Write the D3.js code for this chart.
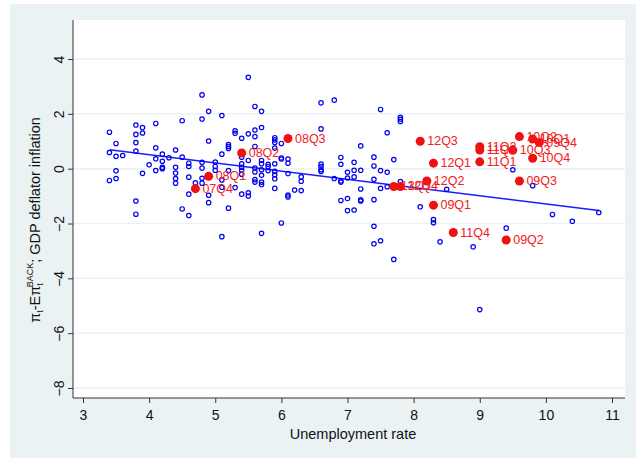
<!DOCTYPE html>
<html><head><meta charset="utf-8">
<script src="https://cdn.jsdelivr.net/npm/d3@7"></script>
<style>body{margin:0;background:#fff}text{font-family:"Liberation Sans",Arial,sans-serif}</style>
</head><body><svg id="c" width="641" height="461"></svg>
<script>
// blue points: [unemployment, inflation surprise]
var bluePts = [
[3.4,1.33],[3.4,0.59],[3.4,-0.43],[3.5,0.92],[3.5,0.45],[3.5,-0.08],[3.5,-0.36],[3.6,0.48],
[3.8,1.59],[3.8,1.25],[3.8,0.95],[3.8,0.64],[3.8,-1.18],[3.8,-1.66],[3.9,1.5],[3.9,1.3],[3.9,-0.17],
[4.0,0.14],[4.1,1.65],[4.1,0.76],[4.1,0.36],[4.1,-0.07],[4.2,0.53],[4.2,0.27],[4.2,0.05],[4.2,0],
[4.3,0.4],[4.4,0.68],[4.4,0.05],[4.4,-0.16],[4.4,-0.36],[4.4,-0.53],[4.5,1.75],[4.5,0.42],[4.5,-1.47],
[4.6,0.2],[4.6,0.08],[4.6,-0.31],[4.6,-0.93],[4.6,-1.71],[4.7,-0.52],
[4.8,2.69],[4.8,1.81],[4.8,0.23],[4.8,0.02],[4.8,-0.35],[4.8,-0.53],[4.9,2.09],[4.9,1.01],[4.9,-0.97],[4.9,-1.24],
[5.0,0.24],[5.0,0.08],[5.0,-0.06],[5.1,1.94],[5.1,0.53],[5.1,-0.41],[5.1,-0.68],[5.1,-2.48],
[5.2,0.88],[5.2,0.81],[5.2,0.74],[5.2,-0.07],[5.2,-1.44],[5.3,1.38],[5.3,1.29],[5.3,-0.69],
[5.4,1.11],[5.4,0.42],[5.4,0.18],[5.4,0.05],[5.4,-0.06],[5.4,-0.2],[5.4,-0.93],
[5.5,3.33],[5.5,1.27],[5.5,0.3],[5.5,-0.88],[5.5,-1.0],
[5.6,2.27],[5.6,1.41],[5.6,1.17],[5.6,0.81],[5.6,0.02],[5.6,-0.12],[5.6,-0.4],[5.6,-0.49],
[5.7,2.09],[5.7,1.5],[5.7,0.3],[5.7,0.18],[5.7,-0.04],[5.7,-0.24],[5.7,-0.49],[5.7,-0.58],[5.7,-2.36],
[5.8,0.16],[5.8,0.08],[5.8,-0.07],
[5.9,1.13],[5.9,1.05],[5.9,0.95],[5.9,0.75],[5.9,0.18],[5.9,-0.1],[5.9,-0.22],[5.9,-0.37],[5.9,-0.72],
[6.0,0.92],[6.0,0.39],[6.0,0.35],[6.0,-1.98],[6.1,0.35],[6.1,0.2],[6.1,-0.18],[6.1,-0.96],[6.1,-1.03],
[6.2,-0.78],[6.3,-0.3],[6.3,-0.46],[6.3,-0.8],
[6.6,2.4],[6.6,1.45],[6.6,0.17],[6.6,0.08],[6.6,-0.04],[6.6,-0.1],[6.8,2.5],[6.8,-0.36],
[6.9,0.41],[6.9,0.16],[6.9,-0.45],[6.9,-0.49],[6.9,-1.16],[7.0,-0.13],[7.0,-0.34],[7.0,-1.09],[7.0,-1.53],
[7.1,0.23],[7.1,-0.06],[7.1,-0.3],[7.1,-1.51],[7.2,0.83],[7.2,-0.06],[7.2,-0.74],[7.2,-1.14],[7.2,-1.18],
[7.4,0.42],[7.4,0.1],[7.4,-0.39],[7.4,-1.13],[7.4,-2.1],[7.4,-2.74],[7.5,2.16],[7.5,-0.07],[7.5,-0.72],[7.5,-2.63],
[7.6,1.31],[7.6,-0.13],[7.6,-0.66],[7.7,0.33],[7.7,-3.31],[7.8,1.87],[7.8,1.8],[7.8,1.72],[7.8,-0.47],
[8.1,-1.39],[8.3,-1.86],[8.3,-1.97],[8.4,-2.67],[8.5,-0.75],[8.9,-2.85],[9.0,-5.14],[9.4,-2.17],
[9.5,-0.04],[9.8,-0.62],[10.1,-1.67],[10.4,-1.92],[10.8,-1.6]
];
// red labelled quarters
var redLabels = ["07Q4","08Q1","08Q2","08Q3","09Q1","09Q2","09Q3","09Q4","10Q1","10Q2","10Q3","10Q4",
  "11Q1","11Q2","11Q3","11Q4","12Q1","12Q2","12Q3","12Q4","13Q1"];
var redX = [4.7,4.9,5.4,6.1,8.3,9.4,9.6,9.9,9.8,9.6,9.5,9.8,9.0,9.0,9.0,8.6,8.3,8.2,8.1,7.8,7.7];
var redY = [-0.73,-0.28,0.57,1.1,-1.33,-2.6,-0.45,0.95,1.08,1.17,0.67,0.38,0.25,0.8,0.68,-2.33,0.2,-0.45,1.0,-0.65,-0.65];
var xTicks = [3,4,5,6,7,8,9,10,11];
var yTicks = [-8,-6,-4,-2,0,2,4];

var svg = d3.select("#c");
svg.append("rect").attr("x",10).attr("y",4).attr("width",626).attr("height",454).attr("fill","#eaf2f3");
var L=73,R=625,T=20,B=398;
svg.append("rect").attr("x",L).attr("y",T).attr("width",R-L).attr("height",B-T).attr("fill","#fff");

var x = d3.scaleLinear().domain([3,11]).range([83,612]);
var y = d3.scaleLinear().domain([-8,4]).range([388,59]);

svg.selectAll(".g").data(yTicks).enter().append("line")
  .attr("x1",L).attr("x2",R).attr("y1",d=>y(d)).attr("y2",d=>y(d))
  .attr("stroke","#eaf2f3").attr("stroke-width",1.5);

var xa = svg.append("g").attr("transform","translate(0,"+B+")")
  .call(d3.axisBottom(x).tickValues(xTicks).tickSize(5).tickPadding(7).tickFormat(d3.format("d")));
var ya = svg.append("g").attr("transform","translate("+L+",0)")
  .call(d3.axisLeft(y).tickValues(yTicks).tickSize(5).tickPadding(4).tickFormat(d3.format("d")));
[xa,ya].forEach(function(a){
  a.select(".domain").attr("stroke","#333").attr("d", a===xa ? "M"+L+",0H"+R : "M0,"+T+"V"+B);
  a.selectAll("line").attr("stroke","#333");
  a.selectAll("text").attr("font-size",14).attr("fill","#111").attr("font-family","Liberation Sans, Arial");
});
ya.selectAll("text").attr("x",0).attr("y",0).attr("dy",0)
  .attr("transform","translate(-9,0) rotate(-90)").attr("text-anchor","middle");

// linear fit over the blue points
var allX = bluePts.map(d=>d[0]), allY = bluePts.map(d=>d[1]);
var mx=d3.mean(allX), my=d3.mean(allY);
var b = d3.sum(allX,(v,i)=>(v-mx)*(allY[i]-my))/d3.sum(allX,v=>(v-mx)*(v-mx));
var a0 = my-b*mx, ext=d3.extent(allX);
svg.append("line").attr("x1",x(ext[0])).attr("x2",x(ext[1]))
  .attr("y1",y(a0+b*ext[0])).attr("y2",y(a0+b*ext[1])).attr("stroke","#1a1aff").attr("stroke-width",1.4);

svg.selectAll(".b").data(bluePts).enter().append("circle")
  .attr("cx",d=>x(d[0])).attr("cy",d=>y(d[1])).attr("r",2.2)
  .attr("fill","none").attr("stroke","#0000ee").attr("stroke-width",1.2);

var red = svg.append("g");
redLabels.forEach(function(lab,i){
  red.append("circle").attr("cx",x(redX[i])).attr("cy",y(redY[i])).attr("r",4.5).attr("fill","#f01010");
  red.append("text").attr("x",x(redX[i])+7).attr("y",y(redY[i])+4).attr("font-size",12.5)
    .attr("fill","#f02020").text(lab);
});

svg.append("text").attr("x",353).attr("y",439).attr("text-anchor","middle").attr("font-size",14.5)
  .attr("fill","#111").text("Unemployment rate");
var yt = svg.append("text").attr("transform","translate(40,220) rotate(-90)").attr("text-anchor","middle")
  .attr("font-size",14.5).attr("fill","#111");
yt.append("tspan").text("π");
yt.append("tspan").attr("font-size",9).attr("dy",3).text("t");
yt.append("tspan").attr("dy",-3).text("-Eπ");
yt.append("tspan").attr("font-size",9).attr("dy",3).text("t");
yt.append("tspan").attr("font-size",9).attr("dx",-4).attr("dy",-10).text("BACK");
yt.append("tspan").attr("dy",7).text("; GDP deflator inflation");
</script></body></html>
